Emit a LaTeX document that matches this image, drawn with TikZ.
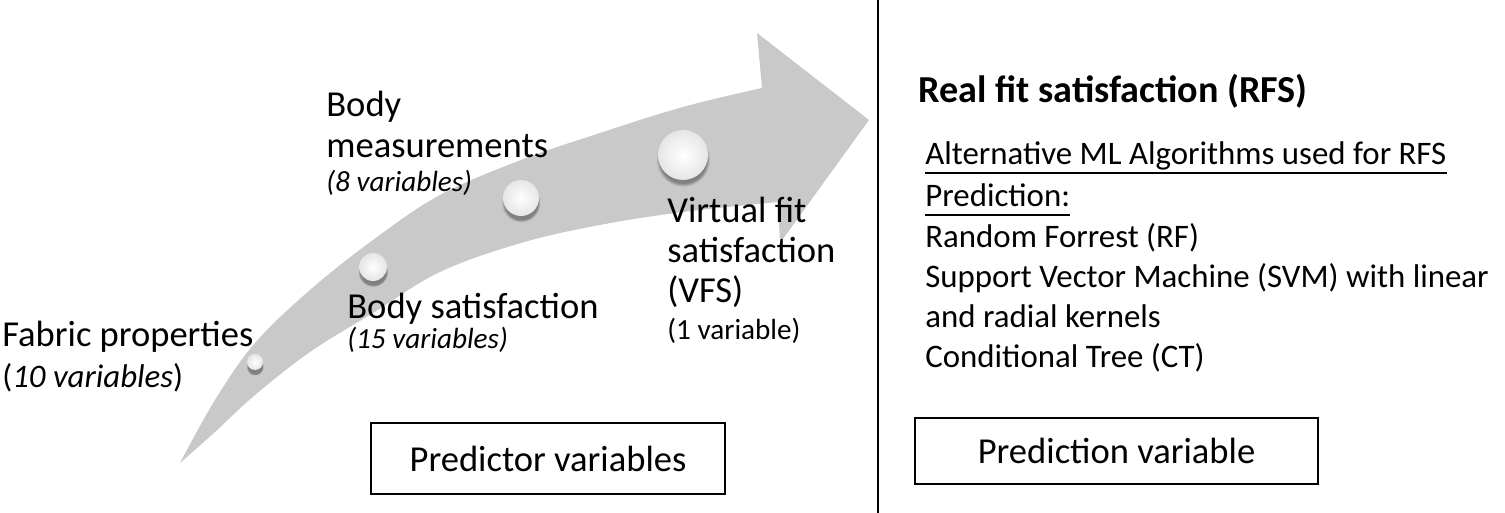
\documentclass[tikz,border=0pt]{standalone}
\usepackage{fontspec}
\setmainfont{Carlito}
\usetikzlibrary{shadows, positioning, calc}
\definecolor{arrowgray}{rgb}{0.79,0.79,0.79}
\definecolor{ballshade}{rgb}{0.90,0.90,0.90}
\newcommand{\bigsz}{\fontsize{20.8}{24}\selectfont}
\newcommand{\listsz}{\fontsize{18.7}{22}\selectfont}
\newcommand{\smallsz}{\fontsize{16.6}{20}\selectfont}
\newcommand{\titlesz}{\fontsize{21.7}{26}\selectfont}

\begin{document}
\begin{tikzpicture}[
  txt/.style={anchor=base west, inner sep=0pt},
  ball/.style={circle, inner sep=0pt, inner color=white, outer color=ballshade,
    circular drop shadow={shadow xshift=0pt, shadow yshift=-2.5pt, shadow scale=1.08}},
  box/.style={draw, line width=1.2pt, inner sep=0pt}
]
\useasboundingbox (0,0) rectangle (30.1,10.26);
\fill[arrowgray] plot[smooth, tension=0.6] coordinates {(3.60,1.00) (4.30,2.26) (5.10,3.40) (6.20,4.46) (7.46,5.46) (8.80,6.36) (10.42,7.06) (12.00,7.60) (13.66,8.12) (15.24,8.50)}
  -- (15.14,9.60) -- (17.38,7.86) -- (15.60,5.40) -- (15.56,6.22)
  -- plot[smooth, tension=0.6] coordinates {(15.56,6.22) (13.66,6.02) (12.00,5.76) (10.42,5.40) (8.80,4.82) (7.46,4.00) (6.20,3.22) (5.10,2.36) (4.30,1.62) (3.60,1.00)} -- cycle;
\node (b1) [ball, minimum size=0.32cm] at (5.10,3.02) {};
\node (b2) [ball, minimum size=0.56cm] at (7.46,4.92) {};
\node (b3) [ball, minimum size=0.72cm] at (10.42,6.30) {};
\node (b4) [ball, minimum size=1.00cm] at (13.66,7.16) {};

\node (fab) [txt] at (0.04,3.32) {\bigsz Fabric properties};
\node (fabn) [txt] at (0.04,2.50) {\listsz (\textit{10 variables})};
\node (bm1) [txt] at (6.52,7.92) {\bigsz Body};
\node (bm2) [txt] at (6.52,7.10) {\bigsz measurements};
\node (bmn) [txt] at (6.52,6.42) {\smallsz\itshape (8 variables)};
\node (bs) [txt] at (6.94,3.88) {\bigsz Body satisfaction};
\node (bsn) [txt] at (6.94,3.28) {\smallsz\itshape (15 variables)};
\node (vf1) [txt] at (13.34,5.80) {\bigsz Virtual fit};
\node (vf2) [txt] at (13.34,5.00) {\bigsz satisfaction};
\node (vf3) [txt] at (13.34,4.20) {\bigsz (VFS)};
\node (vfn) [txt] at (13.34,3.46) {\smallsz (1 variable)};

\coordinate (divtop) at (17.56,10.26);
\coordinate (divbot) at (17.56,0);
\draw[line width=1.4pt] (divtop) -- (divbot);

\node (rfs) [txt] at (18.36,8.20) {\titlesz\bfseries Real fit satisfaction (RFS)};
\node (alg) [txt] at (18.50,6.96) {\listsz Alternative ML Algorithms used for RFS};
\node (pred) [txt] at (18.50,6.12) {\listsz Prediction:};
\draw[line width=1pt] ([yshift=-4.5pt]alg.base west) -- ([yshift=-4.5pt]alg.base east);
\draw[line width=1pt] ([yshift=-4.5pt]pred.base west) -- ([yshift=-4.5pt]pred.base east);
\node (rf) [txt] at (18.50,5.30) {\listsz Random Forrest (RF)};
\node (svm) [txt] at (18.50,4.50) {\listsz Support Vector Machine (SVM) with linear};
\node (svm2) [txt] at (18.50,3.70) {\listsz and radial kernels};
\node (ct) [txt] at (18.50,2.90) {\listsz Conditional Tree (CT)};

\node (pv) [box, minimum width=7.08cm, minimum height=1.42cm] at (10.96,1.09) {\bigsz Predictor variables};
\node (pdv) [box, minimum width=8.06cm, minimum height=1.32cm] at (22.33,1.24) {\bigsz Prediction variable};
\end{tikzpicture}
\end{document}
